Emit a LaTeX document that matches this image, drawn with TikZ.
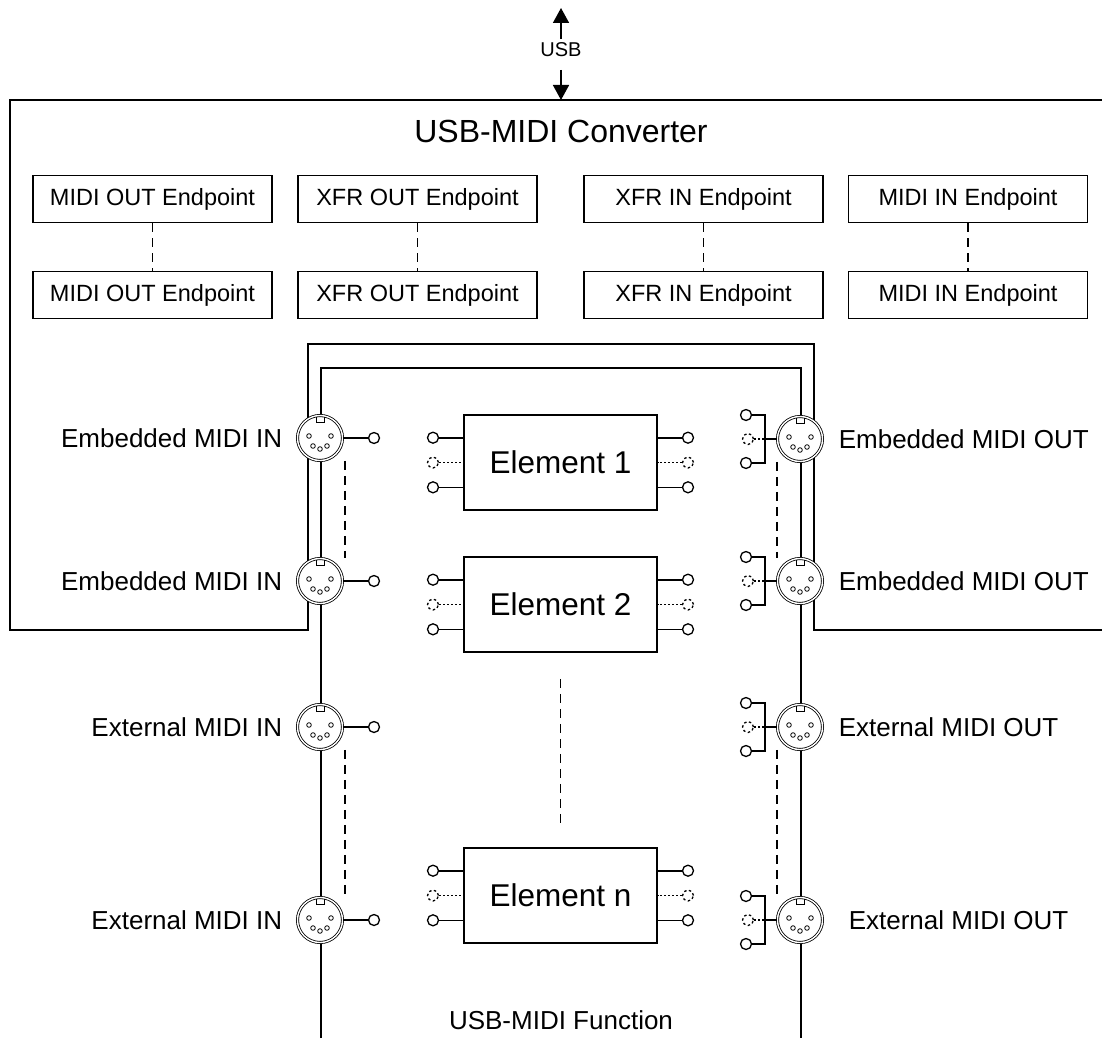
\documentclass[tikz,border=0pt]{standalone}
\usepackage{fontspec}
\setmainfont{Liberation Sans}
\usetikzlibrary{arrows.meta}
\begin{document}
\begin{tikzpicture}[x=1pt,y=-1pt,line width=1.6pt,
  ep/.style={draw,line width=1.6pt,minimum width=239pt,minimum height=47pt,inner sep=0pt,font=\fontsize{23.5}{28}\selectfont},
  elem/.style={draw,line width=1.6pt,minimum width=193pt,minimum height=95pt,inner sep=0pt,font=\fontsize{31.5}{36}\selectfont},
  lbl/.style={inner sep=0pt,font=\fontsize{26}{30}\selectfont},
  pinc/.style={circle,draw,fill=white,line width=1.3pt,inner sep=0pt,minimum size=11pt},
  dpinc/.style={pinc,dash pattern=on 2.5pt off 2.5pt},
  dsh/.style={line width=1.6pt,dash pattern=on 9pt off 6pt},
  dotl/.style={line width=1.4pt,dash pattern=on 2pt off 2pt},
  arr/.style={line width=1.6pt,-{Triangle[width=16pt,length=15pt]}},
  din/.style={circle,draw,fill=white,minimum size=45pt,inner sep=0pt,line width=0.8pt,double,double distance=1.4pt,
    path picture={
      \begin{scope}[shift={(path picture bounding box.center)},line width=0.8pt]
        \draw (-4,-26) -- (-4,-16) -- (4,-16) -- (4,-26);
        \foreach \px/\py in {-11/-2,11/-2,-7/8,0/11,7/8} \draw (\px,\py) circle (2.3);
      \end{scope}}},
]
\useasboundingbox (0,0) rectangle (1102,1038);

% USB arrow
\node[inner sep=0pt,font=\fontsize{20}{24}\selectfont] (usb) at (561,50) {USB};
\coordinate (usbtop) at (561,8);
\coordinate (usbbot) at (561,100);
\draw[arr] ([yshift=3pt]usb.north) -- (usbtop);
\draw[arr] ([yshift=-12pt]usb.south) -- (usbbot);

% converter outline and function outline
\draw (1102,100) -- (10,100) -- (10,630) -- (308,630) -- (308,344) -- (814,344) -- (814,630) -- (1102,630);
\draw (321,1038) -- (321,368) -- (801,368) -- (801,1038);

\node[font=\fontsize{32}{38}\selectfont] (conv) at (561,131) {USB-MIDI Converter};
\node[font=\fontsize{26}{30}\selectfont] (func) at (561,1020) {USB-MIDI Function};

% endpoints
\foreach \n/\cx/\t in {a/152.5/MIDI OUT Endpoint,b/417.5/XFR OUT Endpoint,c/703.5/XFR IN Endpoint,d/968/MIDI IN Endpoint}{
  \node[ep] (ep\n1) at (\cx,199) {\t};
  \node[ep] (ep\n2) at (\cx,295) {\t};
  \draw[dsh] (ep\n1) -- (ep\n2);
}

% elements
\node[elem] (E1) at (560.5,462.5) {Element 1};
\node[elem] (E2) at (560.5,604.5) {Element 2};
\node[elem] (En) at (560.5,895.5) {Element n};
\draw[dsh,shorten <=26pt,shorten >=23pt] (E2) -- (En);
\foreach \e in {E1,E2,En}{
  \node[pinc]  (\e la) at ([yshift=-23.5pt]\e.north -| 433,0) {};
  \node[dpinc] (\e lb) at (\e.center -| 433,0) {};
  \node[pinc]  (\e lc) at ([yshift=23.5pt]\e.south -| 433,0) {};
  \node[pinc]  (\e ra) at ([yshift=-23.5pt]\e.north -| 688,0) {};
  \node[dpinc] (\e rb) at (\e.center -| 688,0) {};
  \node[pinc]  (\e rc) at ([yshift=23.5pt]\e.south -| 688,0) {};
  \draw (\e la) -- (\e la -| \e.west);
  \draw[dotl] (\e lb) -- (\e lb -| \e.west);
  \draw (\e lc) -- (\e lc -| \e.west);
  \draw (\e ra) -- (\e ra -| \e.east);
  \draw[dotl] (\e rb) -- (\e rb -| \e.east);
  \draw (\e rc) -- (\e rc -| \e.east);
}

% MIDI IN jacks (left)
\foreach \n/\yy/\t in {1/438/Embedded MIDI IN,2/581/Embedded MIDI IN,3/727/External MIDI IN,4/920/External MIDI IN}{
  \node[din] (L\n) at (320,\yy) {};
  \node[pinc] (Lp\n) at (374,\yy) {};
  \draw (L\n) -- (Lp\n);
  \node[lbl,anchor=east] (Lt\n) at (283,\yy) {\t};
}
% MIDI OUT jacks (right)
\foreach \n/\yy/\t/\tx in {1/439/Embedded MIDI OUT/838,2/581/Embedded MIDI OUT/838,3/727/External MIDI OUT/838,4/920/External MIDI OUT/848}{
  \node[din] (R\n) at (800,\yy) {};
  \coordinate (Rb\n) at (765,\yy);
  \node[pinc]  (Ra\n) at (746,\yy-24) {};
  \node[dpinc] (Rd\n) at (748,\yy) {};
  \node[pinc]  (Rc\n) at (746,\yy+24) {};
  \draw (Ra\n) -| (Rb\n);
  \draw (Rc\n) -| (Rb\n);
  \draw (Rb\n) -- (R\n);
  \draw[dotl] (Rd\n) -- (Rb\n);
  \node[lbl,anchor=west] (Rt\n) at (\tx,\yy) {\t};
}

% dashed links between jacks
\draw[dsh] ([xshift=25pt]L1.south) -- ([xshift=25pt]L2.north);
\draw[dsh] ([xshift=25pt]L3.south) -- ([xshift=25pt]L4.north);
\draw[dsh] ([xshift=-23pt]R1.south) -- ([xshift=-23pt]R2.north);
\draw[dsh] ([xshift=-23pt]R3.south) -- ([xshift=-23pt]R4.north);
\end{tikzpicture}
\end{document}
